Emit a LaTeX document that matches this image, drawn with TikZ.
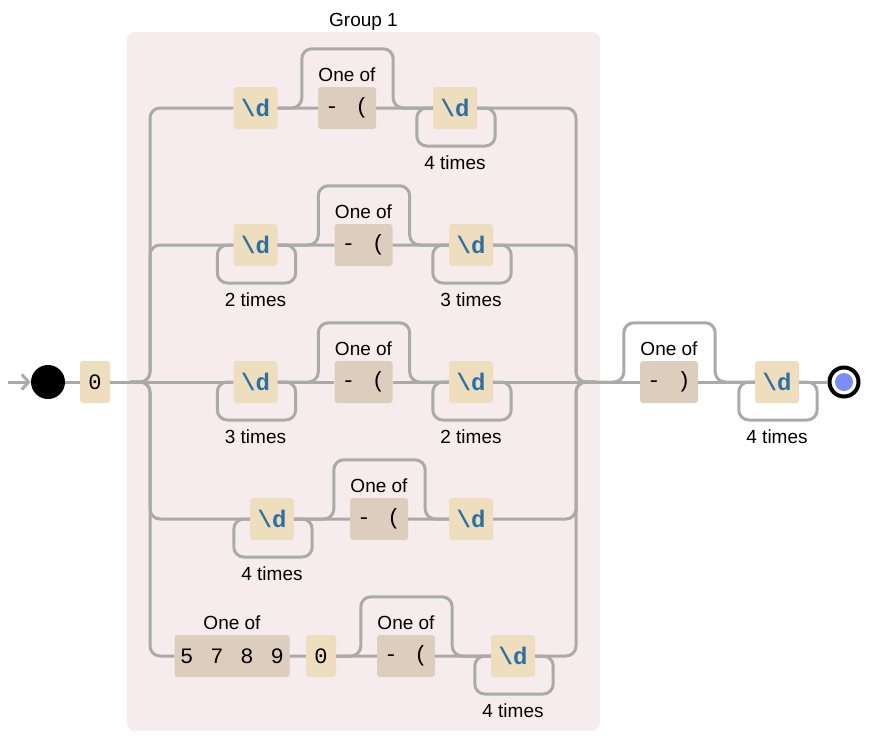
\documentclass[tikz,border=0pt]{standalone}
\usepackage{fontspec}
\setmainfont{Liberation Sans}
\setmonofont{Liberation Mono}
\usetikzlibrary{arrows.meta}
\definecolor{railgray}{RGB}{170,170,170}
\definecolor{litfill}{RGB}{238,222,190}
\definecolor{setfill}{RGB}{221,205,189}
\definecolor{groupfill}{RGB}{246,236,238}
\definecolor{escblue}{RGB}{44,112,164}
\definecolor{endblue}{RGB}{122,141,250}
\newcommand{\lblsize}{\fontsize{19}{22}\selectfont}
\newcommand{\monosize}{\fontsize{22}{24}\selectfont\ttfamily}
\newcommand{\escsize}{\fontsize{24}{26}\selectfont\ttfamily\bfseries}
\newcommand{\setgap}{\hspace{17pt}}

\begin{document}
\begin{tikzpicture}[x=1pt,y=-1pt]

%
% Styles
%
\tikzstyle{grp}      = [rectangle,rounded corners=8pt,fill=groupfill,minimum width=473pt,minimum height=699pt]
\tikzstyle{lit}      = [rectangle,rounded corners=3pt,fill=litfill,minimum width=30pt,minimum height=42pt,inner sep=0pt,font=\monosize]
\tikzstyle{esc}      = [lit,minimum width=44pt,text=escblue,font=\escsize]
\tikzstyle{charset}  = [lit,fill=setfill,minimum width=58pt]
\tikzstyle{txt}      = [font=\lblsize,inner sep=1pt]
\tikzstyle{rail}     = [draw=railgray,line width=3pt,rounded corners=10pt]
\tikzstyle{entry}    = [->,>={Straight Barb[length=7pt,width=15pt]},draw=railgray,line width=3pt]
\tikzstyle{startdot} = [circle,fill=black,minimum size=34pt,inner sep=0pt]
\tikzstyle{fin}      = [circle,draw=black,line width=4pt,fill=white,minimum size=29pt,inner sep=0pt,
                        path picture={\fill[endblue] (path picture bounding box.center) circle (9pt);}]

\useasboundingbox (0,0) rectangle (874,750);

\node[grp,label={[txt]above:Group 1}] (g1) at (363.5,381.5) {};

\coordinate (lead)  at (8,382);
\coordinate (split) at (130,382);
\coordinate (lb)    at (150,382);
\coordinate (rb)    at (576,382);
\coordinate (join)  at (596,382);

\node[startdot] (start) at (48,382) {};
\node[lit]      (z0)    at (95,382) {0};

% row 1
\node[esc]                                         (d11) at (255.5,108) {\textbackslash d};
\node[charset,label={[txt,yshift=4pt]above:One of}] (c11) at (347,108)  {-\setgap(};
\node[esc,label={[txt,yshift=-25pt]below:4 times}]  (d12) at (455,108)  {\textbackslash d};

% row 2
\node[esc,label={[txt,yshift=-25pt]below:2 times}]  (d21) at (255.5,245) {\textbackslash d};
\node[charset,label={[txt,yshift=4pt]above:One of}] (c21) at (363.5,245) {-\setgap(};
\node[esc,label={[txt,yshift=-25pt]below:3 times}]  (d22) at (471,245)   {\textbackslash d};

% row 3
\node[esc,label={[txt,yshift=-25pt]below:3 times}]  (d31) at (255.5,382) {\textbackslash d};
\node[charset,label={[txt,yshift=4pt]above:One of}] (c31) at (363.5,382) {-\setgap(};
\node[esc,label={[txt,yshift=-25pt]below:2 times}]  (d32) at (471,382)   {\textbackslash d};

% row 4
\node[esc,label={[txt,yshift=-25pt]below:4 times}]  (d41) at (272,519) {\textbackslash d};
\node[charset,label={[txt,yshift=4pt]above:One of}] (c41) at (379,519) {-\setgap(};
\node[esc]                                         (d42) at (471,519) {\textbackslash d};

% row 5
\node[charset,minimum width=115pt,label={[txt,yshift=4pt]above:One of}] (s51) at (232,656) {5\setgap7\setgap8\setgap9};
\node[lit]                                          (z52) at (321,656) {0};
\node[charset,label={[txt,yshift=4pt]above:One of}] (c53) at (406,656) {-\setgap(};
\node[esc,label={[txt,yshift=-25pt]below:4 times}]  (d54) at (513,656) {\textbackslash d};

% tail
\node[charset,label={[txt,yshift=4pt]above:One of}] (c61) at (669,382) {-\setgap)};
\node[esc,label={[txt,yshift=-25pt]below:4 times}]  (d62) at (777,382) {\textbackslash d};
\node[fin]                                         (end) at (844,382) {};

\draw[entry] (lead) -- (start);
\draw[rail] (start) -- (z0) -- (split);

% branches
\draw[rail] (split) -| (lb |- d11) -- (d11) -- (c11) -- (d12) -| (rb) -- (join);
\draw[rail] (split) -| (lb |- d21) -- (d21) -- (c21) -- (d22) -| (rb) -- (join);
\draw[rail] (split) -- (d31) -- (c31) -- (d32) -- (join);
\draw[rail] (split) -| (lb |- d41) -- (d41) -- (c41) -- (d42) -| (rb) -- (join);
\draw[rail] (split) -| (lb |- s51) -- (s51) -- (z52) -- (c53) -- (d54) -| (rb) -- (join);
\draw[rail] (join) -- (c61) -- (d62) -- (end);

% skips
\draw[rail] (d11) -| ([shift={(-16,-38)}]c11.north west) -| ([xshift=17pt]c11.east) -- (d12);
\draw[rail] (d21) -| ([shift={(-16,-38)}]c21.north west) -| ([xshift=17pt]c21.east) -- (d22);
\draw[rail] (d31) -| ([shift={(-16,-38)}]c31.north west) -| ([xshift=17pt]c31.east) -- (d32);
\draw[rail] (d41) -| ([shift={(-16,-38)}]c41.north west) -| ([xshift=17pt]c41.east) -- (d42);
\draw[rail] (z52) -| ([shift={(-16,-38)}]c53.north west) -| ([xshift=17pt]c53.east) -- (d54);
\draw[rail] (join) -| ([shift={(-16,-38)}]c61.north west) -| ([xshift=17pt]c61.east) -- (d62);

% loops
\draw[rail] (d12.west) -| ([shift={(-16,38)}]d12.west) -| ([xshift=18pt]d12.east) -- (d12.east);
\draw[rail] (d21.west) -| ([shift={(-16,38)}]d21.west) -| ([xshift=18pt]d21.east) -- (d21.east);
\draw[rail] (d22.west) -| ([shift={(-16,38)}]d22.west) -| ([xshift=18pt]d22.east) -- (d22.east);
\draw[rail] (d31.west) -| ([shift={(-16,38)}]d31.west) -| ([xshift=18pt]d31.east) -- (d31.east);
\draw[rail] (d32.west) -| ([shift={(-16,38)}]d32.west) -| ([xshift=18pt]d32.east) -- (d32.east);
\draw[rail] (d41.west) -| ([shift={(-16,38)}]d41.west) -| ([xshift=18pt]d41.east) -- (d41.east);
\draw[rail] (d54.west) -| ([shift={(-16,38)}]d54.west) -| ([xshift=18pt]d54.east) -- (d54.east);
\draw[rail] (d62.west) -| ([shift={(-16,38)}]d62.west) -| ([xshift=18pt]d62.east) -- (d62.east);

\end{tikzpicture}
\end{document}
